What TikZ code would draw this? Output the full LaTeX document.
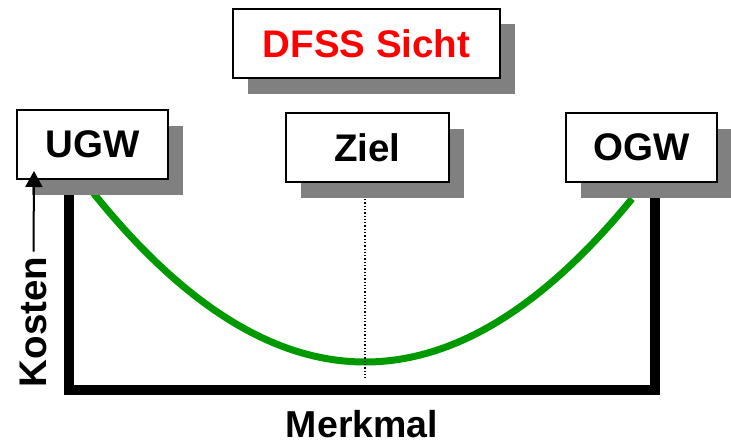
\documentclass[tikz,border=0pt]{standalone}
\usepackage{fontspec}
\setmainfont{Liberation Sans}
\usetikzlibrary{shadows,arrows.meta}
\definecolor{curvegreen}{RGB}{0,153,0}
\definecolor{shadowgray}{RGB}{128,128,128}
\tikzset{
  lbl/.style={font=\fontsize{38.5}{38.5}\selectfont\bfseries},
  sbox/.style={lbl, draw=black, line width=2.5pt, fill=white, minimum height=69pt, inner sep=0pt,
    drop shadow={shadow xshift=15pt, shadow yshift=-15.5pt, fill=shadowgray, opacity=1}},
  axis/.style={line width=10pt, line join=miter, line cap=rect}
}
\begin{document}
\begin{tikzpicture}[x=1pt,y=-1pt]
\useasboundingbox (0,0) rectangle (731,444);
% curve
\draw[curvegreen, line width=7pt] plot[domain=93:632, samples=80, smooth] (\x,{362-22.9*((\x-365)/100)^2});
% axes
\draw[axis] (69,196) -- (69,390) -- (655,390) -- (655,198);
% target line
\draw[dotted, line width=1.3pt] (365,199) -- (365,378);
% boxes
\node[sbox, minimum width=267pt, text=red] (dfss) at (366.5,43.5) {DFSS Sicht};
\node[sbox, minimum width=151pt] (ugw) at (92.5,144.5) {UGW};
\node[sbox, minimum width=163pt] (ziel) at (367.5,147.5) {Ziel};
\node[sbox, minimum width=151pt] (ogw) at (641.5,147.5) {OGW};
% labels
\node[lbl, anchor=base, font=\fontsize{37.5}{37.5}\selectfont\bfseries] (merkmal) at (362,437) {Merkmal};
\node[lbl, rotate=90, inner sep=0pt] (kosten) at (33.5,322) {Kosten};
\coordinate (tip) at (34,171);
\draw[line width=2pt, -{Triangle[width=17pt,length=16pt]}] (kosten.east) ++(0,-5) -- (tip);
\end{tikzpicture}
\end{document}
